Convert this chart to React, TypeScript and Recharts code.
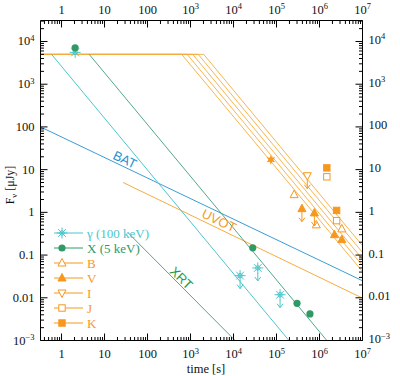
import React from "react";
import { ComposedChart, Line, Scatter, XAxis, YAxis } from "recharts";

const W = 400;
const H = 376;
const T_MIN = 0.324;
const T_MAX = 1e7;
const F_MIN = 1e-3;
const F_MAX = 3.1e4;

const CYAN = "#4cc6cc";
const GREEN = "#2f9a66";
const TEAL = "#3d9c80";
const ORANGE = "#f5ad40";
const ORANGE_PT = "#f7981e";
const BLUE = "#3a9dd4";
const FONT = "'Liberation Serif', 'DejaVu Serif', serif";

// model curves (power laws -> straight on log-log, so two end points each)
const gammaModel = [{ t: 0.585, f: 5000 }, { t: 1.95e5, f: 1e-3 }];
const xrayModel = [{ t: 4.4, f: 5000 }, { t: 1.48e6, f: 1e-3 }];
const xrtModel = [{ t: 35.6, f: 0.33 }, { t: 1.09e4, f: 1e-3 }];
const batModel = [{ t: T_MIN, f: 100 }, { t: T_MAX, f: 0.025 }];
const uvotModel = [{ t: 27, f: 5.0 }, { t: T_MAX, f: 0.0098 }];

// optical / IR bands: common plateau then decay after each break
const plateauFlux = 5000;
const bandBreaks = [623, 837, 1124, 1510, 2027];
const bandEnds = [0.041, 0.057, 0.08, 0.115, 0.165];

// observed points (ul = upper limit)
const gammaPts = [
  { t: 2.07, f: 5560, ul: false },
  { t: 1.42e4, f: 0.033, ul: true },
  { t: 3.67e4, f: 0.05, ul: true },
  { t: 1.21e5, f: 0.0118, ul: true },
];
const xrayPts = [
  { t: 2.07, f: 7100 },
  { t: 2.8e4, f: 0.148 },
  { t: 3.0e5, f: 0.0074 },
  { t: 6.0e5, f: 0.0042 },
];
const bPts = [
  { t: 2.57e5, f: 2.6 },
  { t: 8.4e5, f: 0.51 },
  { t: 3.3e6, f: 0.41 },
];
const vPts = [
  { t: 3.9e5, f: 1.22, ul: true },
  { t: 7.6e5, f: 0.97, ul: true },
  { t: 2.23e6, f: 0.3, ul: false },
  { t: 3.3e6, f: 0.23, ul: false },
];
const iPts = [{ t: 5.2e5, f: 7.2, ul: true }];
const jPts = [
  { t: 1.48e6, f: 6.8 },
  { t: 2.5e6, f: 0.64 },
];
const kPts = [
  { t: 1.48e6, f: 11 },
  { t: 2.5e6, f: 1.11 },
];
const rPts = [{ t: 7.4e4, f: 17 }];

const curveLabels = [
  { text: "BAT", t: 29.8, f: 17.2, angle: 25.5, color: "#2a8fd0" },
  { text: "UVOT", t: 4600, f: 0.64, angle: 25.7, color: ORANGE_PT },
  { text: "XRT", t: 610, f: 0.029, angle: 44, color: "#1f9a4a" },
];

const legendItems = [
  { label: "γ (100 keV)", kind: "gamma", color: CYAN },
  { label: "X (5 keV)", kind: "dot", color: GREEN },
  { label: "B", kind: "openUp", color: ORANGE_PT },
  { label: "V", kind: "fillUp", color: ORANGE_PT },
  { label: "I", kind: "openDown", color: ORANGE_PT },
  { label: "J", kind: "openSq", color: ORANGE_PT },
  { label: "K", kind: "fillSq", color: ORANGE_PT },
];

const xDecades = [-1, 0, 1, 2, 3, 4, 5, 6, 7];
const yDecades = [-3, -2, -1, 0, 1, 2, 3, 4];
const minorSteps = [1, 2, 3, 4, 5, 6, 7, 8, 9];

const logTicks = (decades: number[], lo: number, hi: number) =>
  decades
    .flatMap((d) => minorSteps.map((m) => m * Math.pow(10, d)))
    .filter((v) => v >= lo * 0.999 && v <= hi * 1.001);

const xTicks = logTicks(xDecades, T_MIN, T_MAX);
const yTicks = logTicks(yDecades, F_MIN, F_MAX);

const bandLines = bandBreaks.map((b, i) => [
  { t: T_MIN, f: plateauFlux },
  { t: b, f: plateauFlux },
  { t: T_MAX, f: bandEnds[i] },
]);

function isMajor(v: number) {
  const l = Math.log10(v);
  return Math.abs(l - Math.round(l)) < 1e-6;
}

function tickText(v: number): [string, string | null] {
  const e = Math.round(Math.log10(v));
  if (e >= 0 && e <= 2) return [String(Math.pow(10, e)), null];
  if (e === -1) return ["0.1", null];
  if (e === -2) return ["0.01", null];
  return ["10", e < 0 ? "−" + -e : String(e)];
}

function LogTick(props: any) {
  const { x, y, payload, side } = props;
  const v = payload.value;
  const major = isMajor(v);
  const len = major ? 7 : 3.5;
  let line;
  if (side === "bottom") line = { x1: x, y1: y, x2: x, y2: y - len };
  else if (side === "top") line = { x1: x, y1: y, x2: x, y2: y + len };
  else if (side === "left") line = { x1: x, y1: y, x2: x + len, y2: y };
  else line = { x1: x, y1: y, x2: x - len, y2: y };
  let label = null;
  if (major) {
    const [base, sup] = tickText(v);
    let tx = x;
    let ty = y;
    let anchor = "middle";
    if (side === "bottom") ty = y + 17.5;
    else if (side === "top") ty = y - 7;
    else if (side === "left") {
      tx = x - 6;
      ty = y + 4;
      anchor = "end";
    } else {
      tx = x + 6;
      ty = y + 2.5;
      anchor = "start";
    }
    label = (
      <text x={tx} y={ty} textAnchor={anchor} fontSize={12.5} fontFamily={FONT} fill="#111">
        {base}
        {sup && (
          <tspan dy={-4.5} fontSize={8.5}>
            {sup}
          </tspan>
        )}
      </text>
    );
  }
  return (
    <g>
      <line {...line} stroke="#000" strokeWidth={1} />
      {label}
    </g>
  );
}

function downArrow(cx: number, cy: number, color: string, from = 3, len = 11) {
  return (
    <path
      d={`M${cx} ${cy + from}V${cy + len}M${cx - 3} ${cy + len - 4}L${cx} ${cy + len}L${cx + 3} ${cy + len - 4}`}
      stroke={color}
      strokeWidth={1}
      fill="none"
    />
  );
}

function marker(kind: string, cx: number, cy: number, color: string, ul = false) {
  if (kind === "gamma") {
    const spokes = [0, 45, 90, 135].map((a) => {
      const r = (a * Math.PI) / 180;
      const dx = 5.5 * Math.cos(r);
      const dy = 5.5 * Math.sin(r);
      return <line key={a} x1={cx - dx} y1={cy - dy} x2={cx + dx} y2={cy + dy} />;
    });
    return (
      <g stroke={color} strokeWidth={1} fill="none">
        {spokes}
        <circle cx={cx} cy={cy} r={2.2} />
        {ul && downArrow(cx, cy, color, 5, 13)}
      </g>
    );
  }
  if (kind === "dot") return <circle cx={cx} cy={cy} r={3.6} fill={color} />;
  if (kind === "openUp" || kind === "fillUp") {
    const fill = kind === "fillUp" ? color : "#fff";
    return (
      <g>
        <path d={`M${cx} ${cy - 4.5}L${cx + 4} ${cy + 3}L${cx - 4} ${cy + 3}Z`} fill={fill} stroke={color} strokeWidth={1} />
        {ul && downArrow(cx, cy, color, 3, 13)}
      </g>
    );
  }
  if (kind === "openDown") {
    return (
      <g>
        <path d={`M${cx} ${cy + 4.5}L${cx + 4} ${cy - 3}L${cx - 4} ${cy - 3}Z`} fill="#fff" stroke={color} strokeWidth={1} />
        {ul && downArrow(cx, cy, color, 4.5, 13)}
      </g>
    );
  }
  if (kind === "openSq" || kind === "fillSq") {
    const fill = kind === "fillSq" ? color : "#fff";
    return <rect x={cx - 3.2} y={cy - 3.2} width={6.4} height={6.4} fill={fill} stroke={color} strokeWidth={1} />;
  }
  if (kind === "star") {
    const pts = [];
    for (let k = 0; k < 12; k++) {
      const r = k % 2 === 0 ? 5 : 2.3;
      const a = (k * Math.PI) / 6 - Math.PI / 2;
      pts.push(`${cx + r * Math.cos(a)},${cy + r * Math.sin(a)}`);
    }
    return <polygon points={pts.join(" ")} fill={color} />;
  }
  return null;
}

const shapeOf = (kind: string, color: string) => (p: any) =>
  marker(kind, p.cx, p.cy, color, !!(p.payload && p.payload.ul));

const labelShape = (p: any) => {
  const d = p.payload;
  return (
    <text
      x={p.cx}
      y={p.cy}
      transform={`rotate(${d.angle} ${p.cx} ${p.cy})`}
      textAnchor="middle"
      dominantBaseline="central"
      fontSize={13}
      fontFamily="'Liberation Sans', Arial, sans-serif"
      fill={d.color}
    >
      {d.text}
    </text>
  );
};

export default function App() {
  const axisLine = { stroke: "#000", strokeWidth: 1 };
  return (
    <div style={{ position: "absolute", left: 0, top: 0, width: W, height: H, background: "#fff" }}>
      <ComposedChart width={W} height={H} margin={{ top: 5.5, right: 7.5, bottom: 15.5, left: 10.5 }}>
        <XAxis
          xAxisId="b"
          dataKey="t"
          type="number"
          scale="log"
          domain={[T_MIN, T_MAX]}
          allowDataOverflow
          ticks={xTicks}
          interval={0}
          tickSize={0}
          tickMargin={0}
          tickLine={false}
          axisLine={axisLine}
          height={20}
          tick={(p: any) => <LogTick {...p} side="bottom" />}
        />
        <XAxis
          xAxisId="t"
          orientation="top"
          dataKey="t"
          type="number"
          scale="log"
          domain={[T_MIN, T_MAX]}
          allowDataOverflow
          ticks={xTicks}
          interval={0}
          tickSize={0}
          tickMargin={0}
          tickLine={false}
          axisLine={axisLine}
          height={15}
          tick={(p: any) => <LogTick {...p} side="top" />}
        />
        <YAxis
          yAxisId="l"
          dataKey="f"
          type="number"
          scale="log"
          domain={[F_MIN, F_MAX]}
          allowDataOverflow
          ticks={yTicks}
          interval={0}
          tickSize={0}
          tickMargin={0}
          tickLine={false}
          axisLine={axisLine}
          width={30}
          tick={(p: any) => <LogTick {...p} side="left" />}
        />
        <YAxis
          yAxisId="r"
          orientation="right"
          dataKey="f"
          type="number"
          scale="log"
          domain={[F_MIN, F_MAX]}
          allowDataOverflow
          ticks={yTicks}
          interval={0}
          tickSize={0}
          tickMargin={0}
          tickLine={false}
          axisLine={axisLine}
          width={30}
          tick={(p: any) => <LogTick {...p} side="right" />}
        />

        {bandLines.map((d, i) => (
          <Line
            key={"band" + i}
            xAxisId="b"
            yAxisId="l"
            data={d}
            dataKey="f"
            type="linear"
            stroke={ORANGE}
            strokeWidth={0.9}
            dot={false}
            activeDot={false}
            isAnimationActive={false}
          />
        ))}
        <Line xAxisId="b" yAxisId="l" data={batModel} dataKey="f" type="linear" stroke={BLUE} strokeWidth={1} dot={false} activeDot={false} isAnimationActive={false} />
        <Line xAxisId="b" yAxisId="l" data={uvotModel} dataKey="f" type="linear" stroke={ORANGE} strokeWidth={1} dot={false} activeDot={false} isAnimationActive={false} />
        <Line xAxisId="b" yAxisId="l" data={gammaModel} dataKey="f" type="linear" stroke={CYAN} strokeWidth={1} dot={false} activeDot={false} isAnimationActive={false} />
        <Line xAxisId="b" yAxisId="l" data={xrayModel} dataKey="f" type="linear" stroke={TEAL} strokeWidth={0.9} dot={false} activeDot={false} isAnimationActive={false} />
        <Line xAxisId="b" yAxisId="l" data={xrtModel} dataKey="f" type="linear" stroke={TEAL} strokeWidth={0.9} dot={false} activeDot={false} isAnimationActive={false} />

        <Scatter xAxisId="b" yAxisId="l" data={gammaPts} dataKey="f" shape={shapeOf("gamma", CYAN)} isAnimationActive={false} />
        <Scatter xAxisId="b" yAxisId="l" data={xrayPts} dataKey="f" shape={shapeOf("dot", GREEN)} isAnimationActive={false} />
        <Scatter xAxisId="b" yAxisId="l" data={rPts} dataKey="f" shape={shapeOf("star", ORANGE_PT)} isAnimationActive={false} />
        <Scatter xAxisId="b" yAxisId="l" data={bPts} dataKey="f" shape={shapeOf("openUp", ORANGE_PT)} isAnimationActive={false} />
        <Scatter xAxisId="b" yAxisId="l" data={vPts} dataKey="f" shape={shapeOf("fillUp", ORANGE_PT)} isAnimationActive={false} />
        <Scatter xAxisId="b" yAxisId="l" data={iPts} dataKey="f" shape={shapeOf("openDown", ORANGE_PT)} isAnimationActive={false} />
        <Scatter xAxisId="b" yAxisId="l" data={jPts} dataKey="f" shape={shapeOf("openSq", ORANGE_PT)} isAnimationActive={false} />
        <Scatter xAxisId="b" yAxisId="l" data={kPts} dataKey="f" shape={shapeOf("fillSq", ORANGE_PT)} isAnimationActive={false} />
        <Scatter xAxisId="b" yAxisId="l" data={curveLabels} dataKey="f" shape={labelShape} isAnimationActive={false} />
      </ComposedChart>

      <svg width={W} height={H} style={{ position: "absolute", left: 0, top: 0, pointerEvents: "none" }}>
        {legendItems.map((it, i) => {
          const y = 233 + i * 15;
          return (
            <g key={it.label}>
              <line x1={54} y1={y} x2={83} y2={y} stroke={it.color} strokeWidth={1} />
              {marker(it.kind, 62, y, it.color)}
              <text x={87} y={y + 4.5} fontSize={13} fontFamily={FONT} fill={it.color}>
                {it.label}
              </text>
            </g>
          );
        })}
        <text x={206} y={373} textAnchor="middle" fontSize={12.5} fontFamily={FONT} fill="#111">
          time [s]
        </text>
        <text transform="translate(14 185) rotate(-90)" textAnchor="middle" fontSize={12} fontFamily={FONT} fill="#111">
          F
          <tspan dy={3} fontSize={8.5}>
            ν
          </tspan>
          <tspan dy={-3}> [μJy]</tspan>
        </text>
      </svg>
    </div>
  );
}
